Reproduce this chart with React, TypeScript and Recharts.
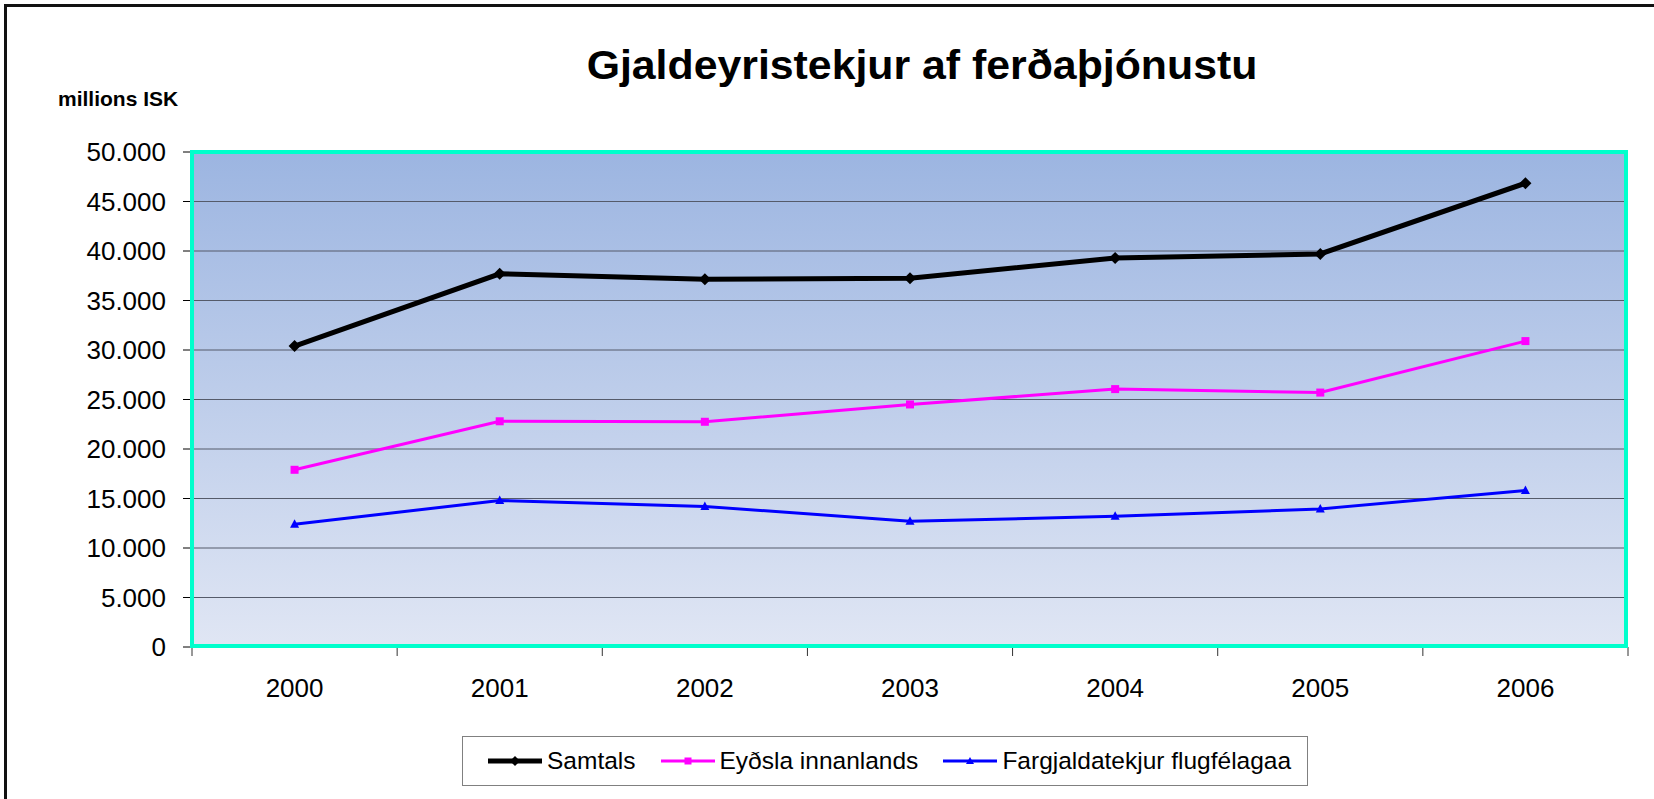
import React from 'react'
import { LineChart, Line, XAxis, YAxis, CartesianGrid } from 'recharts'

const YEARS = ['2000', '2001', '2002', '2003', '2004', '2005', '2006']
const SAMTALS = [30400, 37700, 37150, 37250, 39300, 39700, 46850]
const EYDSLA = [17900, 22800, 22750, 24500, 26050, 25700, 30900]
const FARGJALD = [12400, 14800, 14200, 12700, 13200, 13950, 15800]
const Y_TICKS = [0, 5000, 10000, 15000, 20000, 25000, 30000, 35000, 40000, 45000, 50000]
const SERIES_NAMES = ['Samtals', 'Eyðsla innanlands', 'Fargjaldatekjur flugfélagaa']

const W = 1654
const H = 799
const PLOT_L = 192
const PLOT_R = 1628
const PLOT_T = 152
const PLOT_B = 647
const FONT = '"Liberation Sans", Arial, sans-serif'

const data = YEARS.map((year, i) => ({
  year,
  samtals: SAMTALS[i],
  eydsla: EYDSLA[i],
  fargjald: FARGJALD[i],
}))

const fmt = (v: number) => String(v).replace(/\B(?=(\d{3})+(?!\d))/g, '.')

const Diamond = (p: any) => {
  const { cx, cy } = p
  if (cx == null || cy == null) return null
  const s = 6
  return <polygon key={p.index} points={`${cx},${cy - s} ${cx + s},${cy} ${cx},${cy + s} ${cx - s},${cy}`} fill="#000" />
}
const Square = (p: any) => {
  const { cx, cy } = p
  if (cx == null || cy == null) return null
  return <rect key={p.index} x={cx - 4} y={cy - 4} width={8} height={8} fill="#ff00ff" />
}
const Triangle = (p: any) => {
  const { cx, cy } = p
  if (cx == null || cy == null) return null
  return <polygon key={p.index} points={`${cx},${cy - 5} ${cx + 4.5},${cy + 3.5} ${cx - 4.5},${cy + 3.5}`} fill="#0000ff" />
}

const XTick = (p: any) => {
  const { x, index, payload } = p
  const bw = (PLOT_R - PLOT_L) / YEARS.length
  const last = index === YEARS.length - 1
  return (
    <g>
      <line x1={x - bw / 2} x2={x - bw / 2} y1={PLOT_B} y2={PLOT_B + 9} stroke="#333" />
      {last && <line x1={x + bw / 2} x2={x + bw / 2} y1={PLOT_B} y2={PLOT_B + 9} stroke="#333" />}
      <text x={x} y={PLOT_B + 50} textAnchor="middle" fontSize={26} fontFamily={FONT} fill="#000">{payload.value}</text>
    </g>
  )
}

const legendMarks = [
  { color: '#000', width: 5, mark: (c: number) => <polygon points={`${c},${-5} ${c + 5},0 ${c},5 ${c - 5},0`} fill="#000" /> },
  { color: '#ff00ff', width: 3, mark: (c: number) => <rect x={c - 3.5} y={-3.5} width={7} height={7} fill="#ff00ff" /> },
  { color: '#0000ff', width: 3, mark: (c: number) => <polygon points={`${c},-4 ${c + 4},3 ${c - 4},3`} fill="#0000ff" /> },
]

export default function App() {
  return (
    <div style={{ position: 'fixed', left: 0, top: 0, width: W, height: H, background: '#fff', overflow: 'hidden', fontFamily: FONT }}>
      <div style={{ position: 'absolute', left: 4, top: 4, width: W + 20, height: H + 20, border: '3px solid #111' }} />

      <LineChart width={W} height={H} data={data} margin={{ top: PLOT_T, right: W - PLOT_R, bottom: 0, left: 0 }}>
        <defs>
          <linearGradient id="plotBg" x1="0" y1="0" x2="0" y2="1">
            <stop offset="0%" stopColor="#9cb5e1" />
            <stop offset="100%" stopColor="#e0e6f4" />
          </linearGradient>
        </defs>
        <CartesianGrid vertical={false} stroke="#555b6a" fill="url(#plotBg)" fillOpacity={1} />
        <XAxis dataKey="year" scale="band" height={H - PLOT_B} axisLine={false} tickLine={false} tick={<XTick />} interval={0} />
        <YAxis
          width={PLOT_L}
          domain={[0, 50000]}
          ticks={Y_TICKS}
          tickFormatter={fmt}
          axisLine={false}
          tickLine={{ stroke: '#000' }}
          tickSize={9}
          tickMargin={17}
          tick={{ fontSize: 26, fill: '#000', fontFamily: FONT }}
          interval={0}
        />
        <Line dataKey="samtals" stroke="#000" strokeWidth={5} dot={Diamond} activeDot={false} isAnimationActive={false} />
        <Line dataKey="eydsla" stroke="#ff00ff" strokeWidth={3} dot={Square} activeDot={false} isAnimationActive={false} />
        <Line dataKey="fargjald" stroke="#0000ff" strokeWidth={3} dot={Triangle} activeDot={false} isAnimationActive={false} />
      </LineChart>

      {/* plot frame */}
      <div style={{ position: 'absolute', left: PLOT_L - 2, top: PLOT_T - 2, width: PLOT_R - PLOT_L + 2, height: PLOT_B - PLOT_T + 3, border: '4px solid #00ffcc', boxSizing: 'border-box' }} />

      <div style={{ position: 'absolute', left: 422, top: 45, width: 1000, textAlign: 'center', fontSize: 40, lineHeight: '40px', fontWeight: 'bold', transform: 'scaleX(1.07)' }}>
        Gjaldeyristekjur af ferðaþjónustu
      </div>
      <div style={{ position: 'absolute', left: 58, top: 88, fontSize: 21, lineHeight: '21px', fontWeight: 'bold' }}>millions ISK</div>

      <div style={{ position: 'absolute', left: 462, top: 736, width: 846, height: 50, border: '1px solid #808080', boxSizing: 'border-box', display: 'flex', alignItems: 'center', paddingLeft: 25, gap: 25, fontSize: 24.5 }}>
        {SERIES_NAMES.map((name, i) => (
          <div key={name} style={{ display: 'flex', alignItems: 'center' }}>
            <svg width={54} height={14} style={{ marginRight: 5 }}>
              <g transform="translate(0,7)">
                <line x1={0} x2={54} y1={0} y2={0} stroke={legendMarks[i].color} strokeWidth={legendMarks[i].width} />
                {legendMarks[i].mark(27)}
              </g>
            </svg>
            <span>{name}</span>
          </div>
        ))}
      </div>
    </div>
  )
}
